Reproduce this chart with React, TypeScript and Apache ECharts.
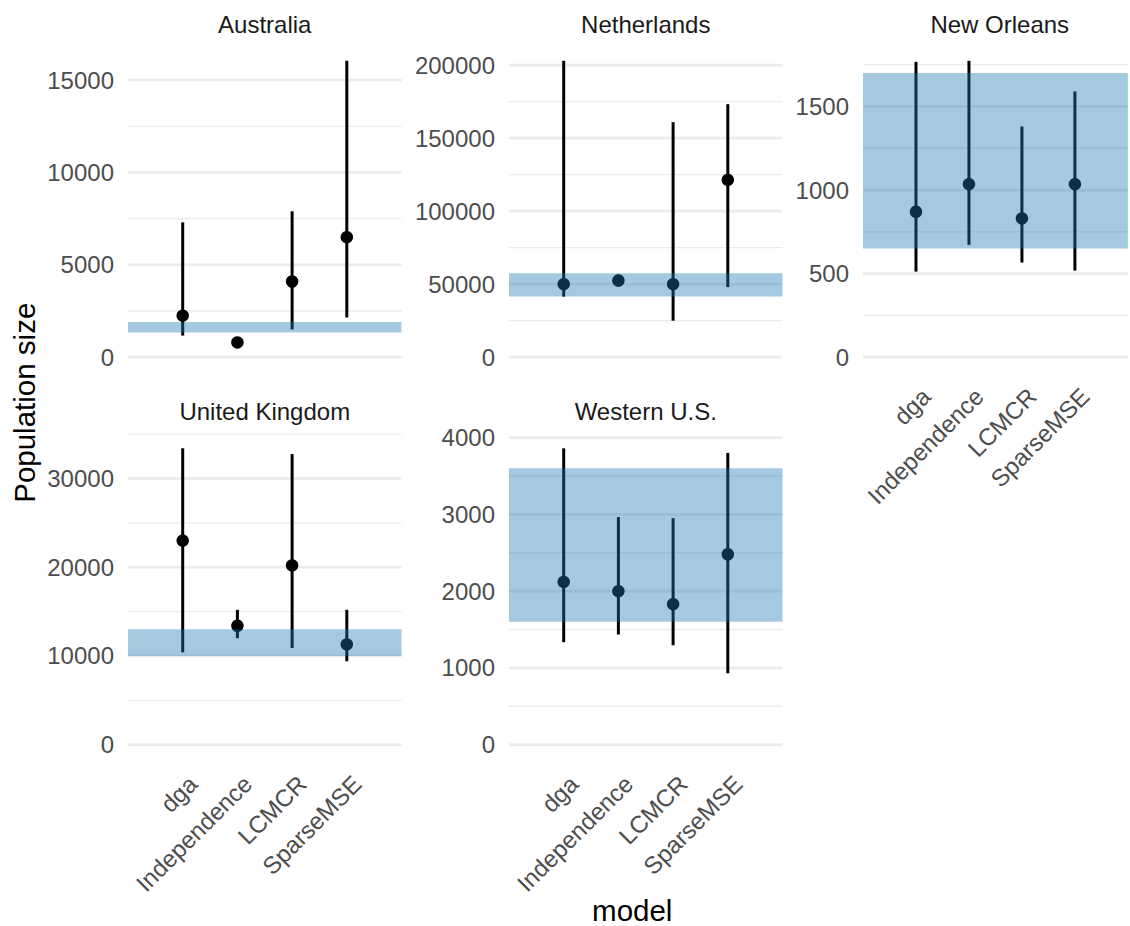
import React, { useEffect, useRef } from "react";
import * as echarts from "echarts";

// ---------- data ----------
const models = ["dga", "Independence", "LCMCR", "SparseMSE"];
const panelNames = ["Australia", "Netherlands", "New Orleans", "United Kingdom", "Western U.S."];

const australiaEst = [2250, 800, 4100, 6500];
const australiaLo = [1170, 760, 1500, 2150];
const australiaHi = [7300, 860, 7900, 16050];
const australiaBand = [1330, 1900];
const australiaTicks = [0, 5000, 10000, 15000];

const netherlandsEst = [50000, 52500, 50000, 121500];
const netherlandsLo = [41500, 49000, 25000, 48000];
const netherlandsHi = [203000, 56500, 161000, 173300];
const netherlandsBand = [41500, 57500];
const netherlandsTicks = [0, 50000, 100000, 150000, 200000];

const newOrleansEst = [870, 1035, 830, 1035];
const newOrleansLo = [512, 672, 566, 518];
const newOrleansHi = [1767, 1773, 1380, 1590];
const newOrleansBand = [650, 1700];
const newOrleansTicks = [0, 500, 1000, 1500];

const ukEst = [23000, 13400, 20200, 11300];
const ukLo = [10400, 12000, 10900, 9400];
const ukHi = [33400, 15200, 32750, 15200];
const ukBand = [10000, 13000];
const ukTicks = [0, 10000, 20000, 30000];

const westernEst = [2120, 2000, 1830, 2480];
const westernLo = [1335, 1435, 1295, 930];
const westernHi = [3860, 2965, 2950, 3800];
const westernBand = [1600, 3600];
const westernTicks = [0, 1000, 2000, 3000, 4000];

const xTitle = "model";
const yTitle = "Population size";

// ---------- layout / style ----------
const FONT = "'Liberation Sans', Arial, Helvetica, sans-serif";
const SMALL = 24;
const BIG = 29.5;
const PANEL_W = 273.5;
const PANEL_H = 326;
const layout = [
  { left: 128, top: 46, showX: false },
  { left: 509, top: 46, showX: false },
  { left: 863, top: 46, showX: true },
  { left: 128, top: 433.5, showX: true },
  { left: 509, top: 433.5, showX: true },
];

// discrete axis: one empty slot of padding on each side (ggplot discrete expansion)
const xCategories = ["", ...models, ""];

type Panel = { name: string; est: number[]; lo: number[]; hi: number[]; band: number[]; ticks: number[] };

const panels: Panel[] = [
  { name: panelNames[0], est: australiaEst, lo: australiaLo, hi: australiaHi, band: australiaBand, ticks: australiaTicks },
  { name: panelNames[1], est: netherlandsEst, lo: netherlandsLo, hi: netherlandsHi, band: netherlandsBand, ticks: netherlandsTicks },
  { name: panelNames[2], est: newOrleansEst, lo: newOrleansLo, hi: newOrleansHi, band: newOrleansBand, ticks: newOrleansTicks },
  { name: panelNames[3], est: ukEst, lo: ukLo, hi: ukHi, band: ukBand, ticks: ukTicks },
  { name: panelNames[4], est: westernEst, lo: westernLo, hi: westernHi, band: westernBand, ticks: westernTicks },
];

function yRange(p: Panel): [number, number] {
  const hi = Math.max(...p.hi, ...p.est, p.band[1]);
  const lo = 0;
  const span = hi - lo;
  return [lo - 0.05 * span, hi + 0.05 * span];
}

function buildOption() {
  const grids: any[] = [];
  const xAxes: any[] = [];
  const yAxes: any[] = [];
  const series: any[] = [];
  const graphics: any[] = [];

  panels.forEach((p, i) => {
    const l = layout[i];
    const [ymin, ymax] = yRange(p);
    grids.push({ left: l.left, top: l.top, width: PANEL_W, height: PANEL_H, containLabel: false });
    xAxes.push({
      type: "category",
      gridIndex: i,
      data: xCategories,
      boundaryGap: false,
      axisLine: { show: false },
      axisTick: { show: false },
      splitLine: { show: false },
      axisLabel: {
        show: l.showX,
        interval: 0,
        hideOverlap: false,
        rotate: 45,
        margin: 10,
        fontSize: SMALL,
        fontFamily: FONT,
        color: "#4D4D4D",
        align: "right",
        verticalAlign: "top",
        lineHeight: 29,
      },
    });
    yAxes.push({
      type: "value",
      gridIndex: i,
      min: ymin,
      max: ymax,
      axisLine: { show: false },
      axisTick: { show: false },
      splitLine: { show: false },
      axisLabel: {
        customValues: p.ticks,
        formatter: (v: number) => String(v),
        hideOverlap: false,
        fontSize: SMALL,
        fontFamily: FONT,
        color: "#4D4D4D",
        margin: 14,
      },
    });

    // grid lines (major at ticks, minor halfway)
    const step = p.ticks[1] - p.ticks[0];
    const minors = p.ticks.map((v) => v + step / 2).filter((v) => v > ymin && v < ymax);
    const gl = [...p.ticks.map((v) => [0, v, 1]), ...minors.map((v) => [0, v, 0])];
    series.push({
      type: "custom",
      xAxisIndex: i,
      yAxisIndex: i,
      z: 1,
      silent: true,
      data: gl,
      encode: { x: 0, y: 1 },
      renderItem: (params: any, api: any) => {
        const cs = params.coordSys;
        const y = api.coord([0, api.value(1)])[1];
        return {
          type: "line",
          shape: { x1: cs.x, y1: y, x2: cs.x + cs.width, y2: y },
          style: { stroke: "#EBEBEB", lineWidth: api.value(2) ? 2.7 : 1.35 },
        };
      },
    });

    // error bars
    series.push({
      type: "custom",
      xAxisIndex: i,
      yAxisIndex: i,
      z: 2,
      silent: true,
      data: models.map((_, k) => [k + 1, p.lo[k], p.hi[k]]),
      encode: { x: 0, y: [1, 2] },
      renderItem: (params: any, api: any) => {
        const a = api.coord([api.value(0), api.value(1)]);
        const b = api.coord([api.value(0), api.value(2)]);
        return {
          type: "line",
          shape: { x1: a[0], y1: a[1], x2: b[0], y2: b[1] },
          style: { stroke: "#000000", lineWidth: 3 },
        };
      },
    });

    // points
    series.push({
      type: "scatter",
      xAxisIndex: i,
      yAxisIndex: i,
      z: 3,
      silent: true,
      symbol: "circle",
      symbolSize: 12.5,
      itemStyle: { color: "#000000", opacity: 1 },
      data: models.map((_, k) => [k + 1, p.est[k]]),
    });

    // true-range band on top
    series.push({
      type: "custom",
      xAxisIndex: i,
      yAxisIndex: i,
      z: 5,
      silent: true,
      data: [[0, p.band[0], p.band[1]]],
      encode: { x: 0, y: [1, 2] },
      renderItem: (params: any, api: any) => {
        const cs = params.coordSys;
        const y1 = api.coord([0, api.value(1)])[1];
        const y2 = api.coord([0, api.value(2)])[1];
        return {
          type: "rect",
          shape: { x: cs.x, y: y2, width: cs.width, height: y1 - y2 },
          style: { fill: "#1F78B4", opacity: 0.4 },
        };
      },
    });

    // strip title
    graphics.push({
      type: "text",
      x: l.left + PANEL_W / 2,
      y: l.top - 22,
      style: {
        text: p.name,
        fontSize: SMALL,
        fontFamily: FONT,
        fill: "#1A1A1A",
        align: "center",
        verticalAlign: "middle",
      },
    });
  });

  const panelsLeft = Math.min(...layout.map((l) => l.left));
  const panelsRight = Math.max(...layout.map((l) => l.left)) + PANEL_W;
  const panelsTop = Math.min(...layout.map((l) => l.top));
  const panelsBottom = Math.max(...layout.map((l) => l.top)) + PANEL_H;

  graphics.push({
    type: "text",
    x: (panelsLeft + panelsRight) / 2,
    y: 910,
    style: { text: xTitle, fontSize: BIG, fontFamily: FONT, fill: "#000000", align: "center", verticalAlign: "middle" },
  });
  graphics.push({
    type: "text",
    x: 24,
    y: (panelsTop + panelsBottom) / 2,
    rotation: Math.PI / 2,
    style: { text: yTitle, fontSize: BIG, fontFamily: FONT, fill: "#000000", align: "center", verticalAlign: "middle" },
  });

  return {
    animation: false,
    backgroundColor: "#FFFFFF",
    textStyle: { fontFamily: FONT },
    grid: grids,
    xAxis: xAxes,
    yAxis: yAxes,
    series,
    graphic: graphics,
  };
}

export default function App() {
  const ref = useRef<HTMLDivElement>(null);
  useEffect(() => {
    if (!ref.current) return;
    const chart = echarts.init(ref.current, undefined, { renderer: "svg" });
    chart.setOption(buildOption() as any);
    return () => chart.dispose();
  }, []);
  return (
    <div
      ref={ref}
      style={{ position: "absolute", left: 0, top: 0, width: 1130, height: 926, background: "#fff" }}
    />
  );
}
